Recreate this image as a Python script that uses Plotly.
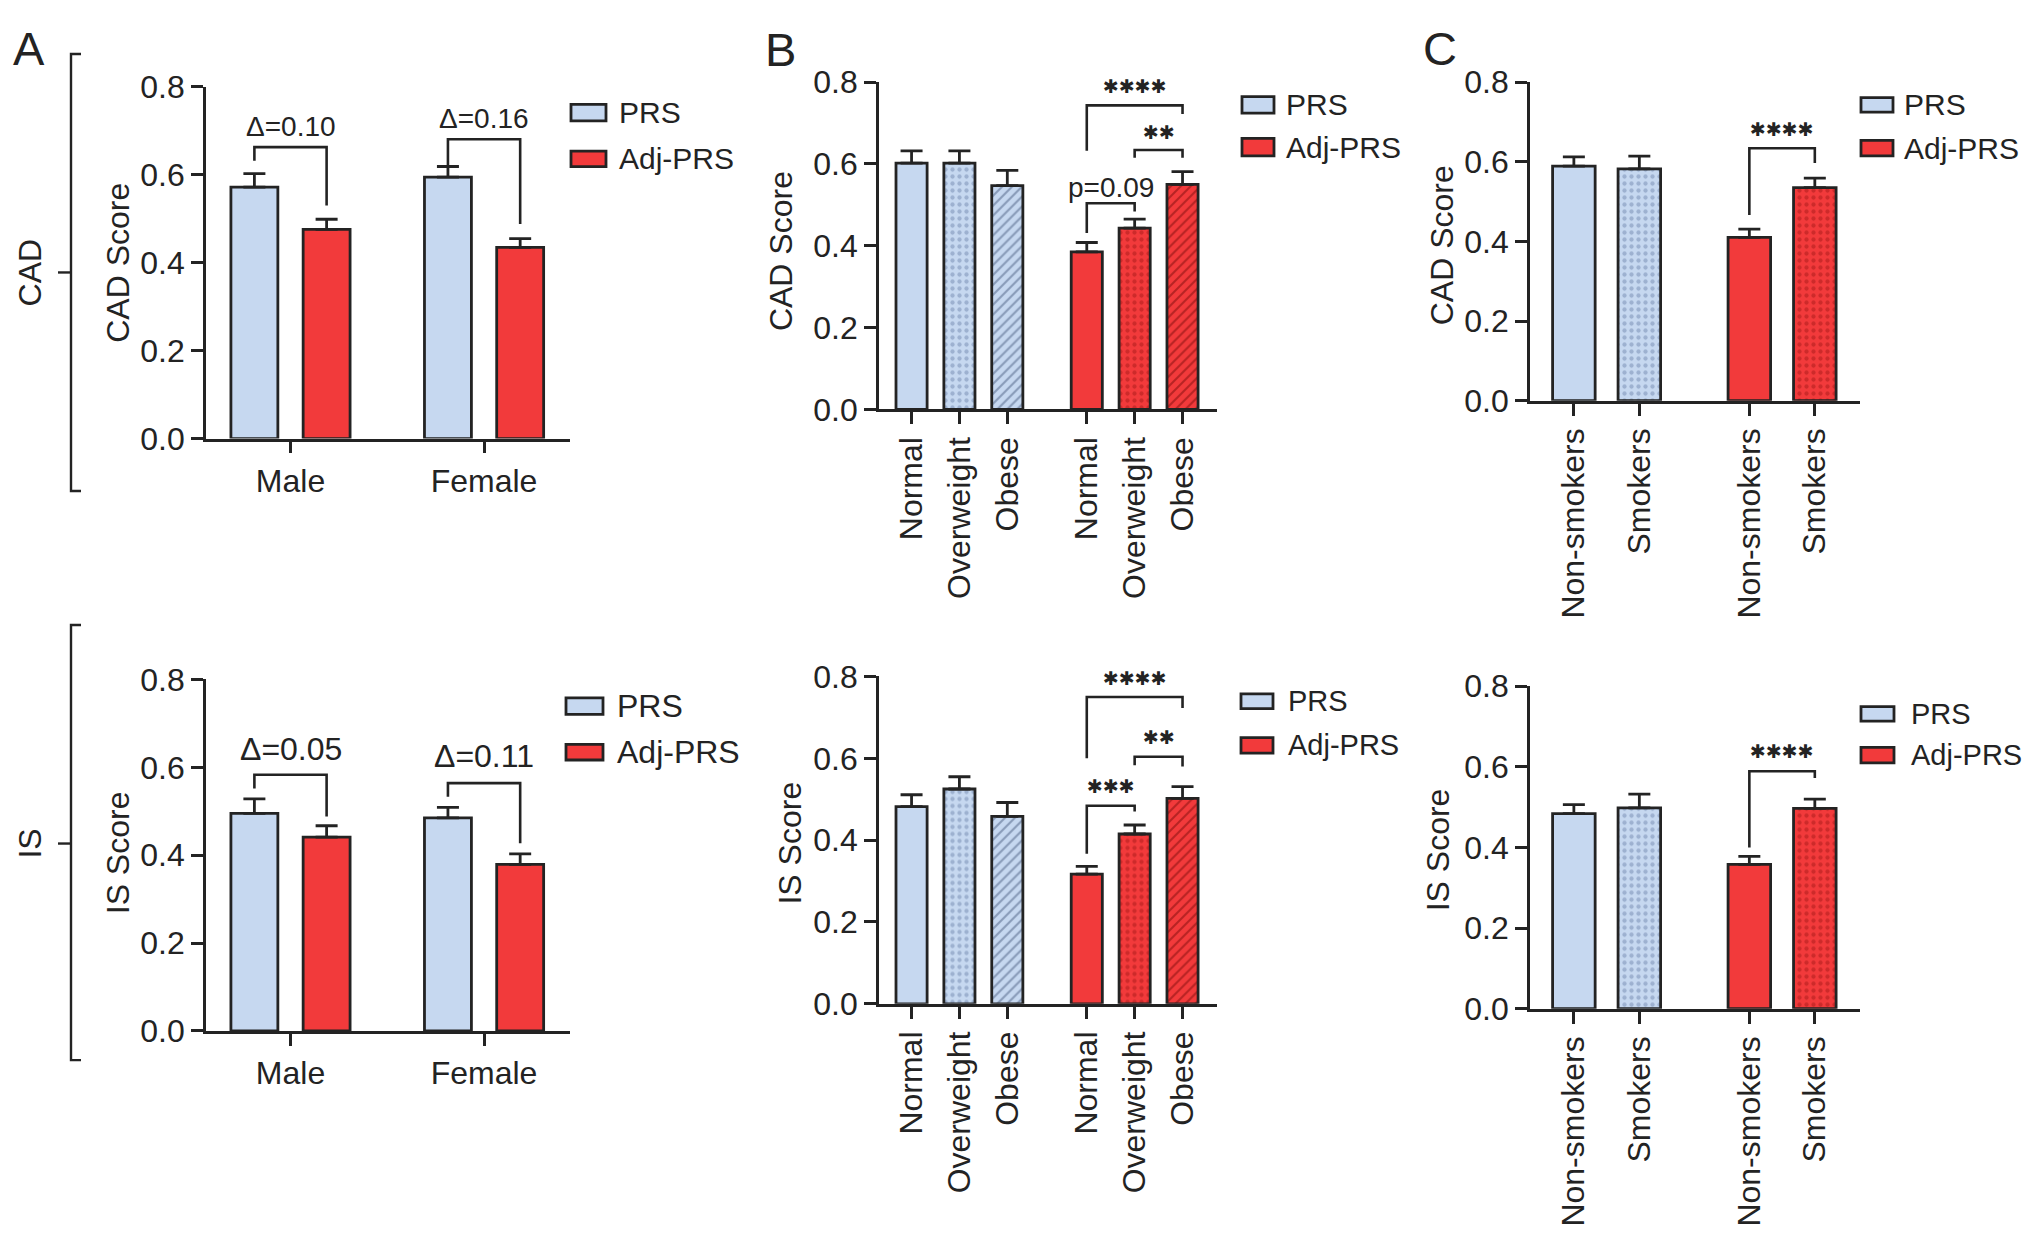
"""PRS vs Adj-PRS scores for CAD and IS, split by sex, BMI class and smoking status."""

import plotly.graph_objects as go

W, H = 2032, 1251

# ---- data ----
SEX = ["Male", "Female"]
BMI = ["Normal", "Overweight", "Obese"]
SMOKE = ["Non-smokers", "Smokers"]
SERIES = ["PRS", "Adj-PRS"]

cad_sex_prs = [0.572, 0.595]
cad_sex_prs_err = [0.031, 0.024]
cad_sex_adj = [0.476, 0.435]
cad_sex_adj_err = [0.023, 0.020]

is_sex_prs = [0.495, 0.485]
is_sex_prs_err = [0.033, 0.024]
is_sex_adj = [0.441, 0.379]
is_sex_adj_err = [0.026, 0.024]

cad_bmi_prs = [0.602, 0.602, 0.547]
cad_bmi_prs_err = [0.030, 0.030, 0.037]
cad_bmi_adj = [0.385, 0.443, 0.550]
cad_bmi_adj_err = [0.023, 0.022, 0.031]

is_bmi_prs = [0.482, 0.525, 0.458]
is_bmi_prs_err = [0.029, 0.030, 0.034]
is_bmi_adj = [0.317, 0.415, 0.502]
is_bmi_adj_err = [0.019, 0.022, 0.029]

cad_smk_prs = [0.589, 0.582]
cad_smk_prs_err = [0.023, 0.032]
cad_smk_adj = [0.410, 0.535]
cad_smk_adj_err = [0.021, 0.024]

is_smk_prs = [0.484, 0.498]
is_smk_prs_err = [0.022, 0.034]
is_smk_adj = [0.358, 0.497]
is_smk_adj_err = [0.020, 0.023]

Y_TICKS = [0.0, 0.2, 0.4, 0.6, 0.8]

# comparison brackets: (bar slot left, bar slot right, top, left end, right end, label, label y)
brk_cad_sex = [(0, 1, 0.663, 0.632, 0.530, "Δ=0.10", 0.709),
               (2, 3, 0.681, 0.621, 0.488, "Δ=0.16", 0.729)]
brk_is_sex = [(0, 1, 0.583, 0.552, 0.488, "Δ=0.05", 0.641),
              (2, 3, 0.564, 0.533, 0.427, "Δ=0.11", 0.625)]
brk_cad_bmi = [(3, 4, 0.504, 0.431, 0.484, "p=0.09", 0.543),
               (4, 5, 0.634, 0.615, 0.615, "✱✱", 0.679),
               (3, 5, 0.743, 0.632, 0.722, "✱✱✱✱", 0.790)]
brk_is_bmi = [(3, 4, 0.484, 0.367, 0.470, "✱✱✱", 0.532),
              (4, 5, 0.604, 0.583, 0.580, "✱✱", 0.652),
              (3, 5, 0.750, 0.600, 0.723, "✱✱✱✱", 0.797)]
brk_cad_smk = [(2, 3, 0.634, 0.466, 0.597, "✱✱✱✱", 0.681)]
brk_is_smk = [(2, 3, 0.589, 0.400, 0.572, "✱✱✱✱", 0.639)]

# ---- styling ----
FONT = "Liberation Sans, Arial, Helvetica, sans-serif"
INK = "#232323"
PRS_FILL = "#c6d8f0"
ADJ_FILL = "#f23a3b"
PRS_FG = ["#c6d8f0", "#7389b0", "#4a5d80"]
ADJ_FG = ["#f23a3b", "#a81a1a", "#7c0c0c"]
BAR_W = 0.65


def px_x(px):
    return px / W


def px_y(py):
    return 1 - py / H


fig = go.Figure()
shapes = []
annotations = []


def add_panel(n, dom_x, dom_y, xrange, ticks, labels, tickangle,
              prs_x, prs, prs_err, adj_x, adj, adj_err, patterns,
              slots, brackets, ytitle, title_xy, legend_box, legend_font, brk_font):
    xa = "x" if n == 1 else f"x{n}"
    ya = "y" if n == 1 else f"y{n}"
    for xs, vals, errs, fill, fg in ((prs_x, prs, prs_err, PRS_FILL, PRS_FG),
                                     (adj_x, adj, adj_err, ADJ_FILL, ADJ_FG)):
        k = len(vals)
        fig.add_trace(go.Bar(
            x=xs, y=vals, width=BAR_W, xaxis=xa, yaxis=ya, showlegend=False,
            name="PRS" if fill == PRS_FILL else "Adj-PRS",
            marker=dict(
                color=fill,
                line=dict(color=INK, width=2.8),
                pattern=dict(shape=patterns[:k], fillmode="overlay",
                             fgcolor=fg[:k], size=7, solidity=0.3),
            ),
            error_y=dict(type="data", array=errs, arrayminus=[0] * k, symmetric=False,
                         color=INK, thickness=2.8, width=11),
        ))
    for (i, j, top, yl, yr, label, ly) in brackets:
        x1, x2 = slots[i], slots[j]
        fig.add_trace(go.Scatter(
            x=[x1, x1, x2, x2], y=[yl, top, top, yr], mode="lines",
            line=dict(color=INK, width=2.6), xaxis=xa, yaxis=ya,
            showlegend=False, hoverinfo="skip", cliponaxis=False,
        ))
        star = label.startswith("✱")
        annotations.append(dict(
            x=(x1 + x2) / 2, y=ly, xref=xa, yref=ya, text=label, showarrow=False,
            xanchor="center", yanchor="middle",
            font=dict(family="DejaVu Sans" if star else FONT,
                      size=19 if star else brk_font, color=INK),
        ))
    axis_common = dict(showline=True, linecolor=INK, linewidth=2.8, ticks="outside",
                       ticklen=12, tickwidth=2.8, tickcolor=INK, showgrid=False,
                       zeroline=False, fixedrange=True,
                       tickfont=dict(family=FONT, size=32, color=INK))
    fig.layout[f"xaxis{'' if n == 1 else n}"] = dict(
        domain=[px_x(dom_x[0]), px_x(dom_x[1])], range=xrange, anchor=ya,
        tickvals=ticks, ticktext=labels, tickangle=tickangle, **axis_common)
    fig.layout[f"yaxis{'' if n == 1 else n}"] = dict(
        domain=[px_y(dom_y[1]), px_y(dom_y[0])], range=[0, 0.8], anchor=xa,
        tickvals=Y_TICKS, tickformat=".1f", **axis_common)
    annotations.append(dict(
        x=px_x(title_xy[0]), y=px_y(title_xy[1]), xref="paper", yref="paper",
        text=ytitle, textangle=-90, showarrow=False, xanchor="center", yanchor="middle",
        font=dict(family=FONT, size=32, color=INK)))
    # legend drawn as swatch boxes + labels
    bx0, bx1, p0, p1, a0, a1, tx = legend_box
    for (y0, y1, fill, name) in ((p0, p1, PRS_FILL, SERIES[0]), (a0, a1, ADJ_FILL, SERIES[1])):
        shapes.append(dict(type="rect", xref="paper", yref="paper",
                           x0=px_x(bx0), x1=px_x(bx1), y0=px_y(y1), y1=px_y(y0),
                           fillcolor=fill, line=dict(color=INK, width=2.8)))
        annotations.append(dict(
            x=px_x(tx), y=px_y((y0 + y1) / 2), xref="paper", yref="paper", text=name,
            showarrow=False, xanchor="left", yanchor="middle",
            font=dict(family=FONT, size=legend_font, color=INK)))


# slot positions along each x axis
SLOT_2x2 = [0, 1, 2.68, 3.68]
SLOT_2x3 = [0, 1, 2, 3.66, 4.66, 5.66]
RANGE_2x2 = [-0.67, 4.37]
RANGE_2x3 = [-0.68, 6.38]

# A: sex
add_panel(1, (206, 570), (71, 433), RANGE_2x2, [0.5, 3.18], SEX, 0,
          [SLOT_2x2[0], SLOT_2x2[2]], cad_sex_prs, cad_sex_prs_err,
          [SLOT_2x2[1], SLOT_2x2[3]], cad_sex_adj, cad_sex_adj_err, ["", ""],
          SLOT_2x2, brk_cad_sex, "CAD Score", (118, 252),
          (571, 606, 89, 106, 137, 153, 617), 30, 28)
add_panel(4, (206, 570), (681, 1043), RANGE_2x2, [0.5, 3.18], SEX, 0,
          [SLOT_2x2[0], SLOT_2x2[2]], is_sex_prs, is_sex_prs_err,
          [SLOT_2x2[1], SLOT_2x2[3]], is_sex_adj, is_sex_adj_err, ["", ""],
          SLOT_2x2, brk_is_sex, "IS Score", (118, 860),
          (566, 603, 700, 717, 748, 764, 615), 32, 32)

# B: BMI
add_panel(2, (879, 1217), (66, 403), RANGE_2x3, SLOT_2x3, BMI + BMI, -90,
          SLOT_2x3[:3], cad_bmi_prs, cad_bmi_prs_err,
          SLOT_2x3[3:], cad_bmi_adj, cad_bmi_adj_err, ["", ".", "/"],
          SLOT_2x3, brk_cad_bmi, "CAD Score", (781, 240),
          (1242, 1274, 81, 98, 124, 142, 1284), 30, 28)
add_panel(5, (879, 1217), (678, 1015), RANGE_2x3, SLOT_2x3, BMI + BMI, -90,
          SLOT_2x3[:3], is_bmi_prs, is_bmi_prs_err,
          SLOT_2x3[3:], is_bmi_adj, is_bmi_adj_err, ["", ".", "/"],
          SLOT_2x3, brk_is_bmi, "IS Score", (790, 850),
          (1241, 1273, 696, 711, 741, 757, 1286), 29, 28)

# C: smoking
add_panel(3, (1530, 1860), (66, 394), RANGE_2x2, SLOT_2x2, SMOKE + SMOKE, -90,
          SLOT_2x2[:2], cad_smk_prs, cad_smk_prs_err,
          SLOT_2x2[2:], cad_smk_adj, cad_smk_adj_err, ["", "."],
          SLOT_2x2, brk_cad_smk, "CAD Score", (1442, 234),
          (1861, 1893, 82, 97, 126, 142, 1902), 30, 28)
add_panel(6, (1530, 1860), (688, 1020), RANGE_2x2, SLOT_2x2, SMOKE + SMOKE, -90,
          SLOT_2x2[:2], is_smk_prs, is_smk_prs_err,
          SLOT_2x2[2:], is_smk_adj, is_smk_adj_err, ["", "."],
          SLOT_2x2, brk_is_smk, "IS Score", (1438, 857),
          (1861, 1894, 709, 724, 751, 767, 1909), 29, 28)

# panel letters
for letter, (lx, ly) in {"A": (29, 31), "B": (780, 32), "C": (1440, 31)}.items():
    annotations.append(dict(x=px_x(lx), y=px_y(ly), xref="paper", yref="paper", text=letter,
                            showarrow=False, xanchor="center", yanchor="middle",
                            font=dict(family=FONT, size=47, color=INK)))

# row brackets with CAD / IS labels
for label, (top, bot, mid) in {"CAD": (37, 487, 262), "IS": (625, 1073, 850)}.items():
    shapes.append(dict(type="path", xref="paper", yref="paper",
                       path=f"M {px_x(81)},{px_y(top)} L {px_x(71)},{px_y(top)} "
                            f"L {px_x(71)},{px_y(bot)} L {px_x(81)},{px_y(bot)}",
                       line=dict(color=INK, width=2.4)))
    shapes.append(dict(type="line", xref="paper", yref="paper",
                       x0=px_x(58), x1=px_x(71), y0=px_y(mid), y1=px_y(mid),
                       line=dict(color=INK, width=2.4)))
    annotations.append(dict(x=px_x(30), y=px_y(mid), xref="paper", yref="paper", text=label,
                            textangle=-90, showarrow=False, xanchor="center", yanchor="middle",
                            font=dict(family=FONT, size=32, color=INK)))

fig.update_layout(
    width=W, height=H,
    margin=dict(l=0, r=0, t=0, b=0),
    paper_bgcolor="white", plot_bgcolor="white",
    barmode="overlay",
    shapes=shapes, annotations=annotations,
    font=dict(family=FONT, color=INK),
)

fig.write_html("out.html", config={"displayModeBar": False},
               post_script="document.body.style.margin='0px';")
